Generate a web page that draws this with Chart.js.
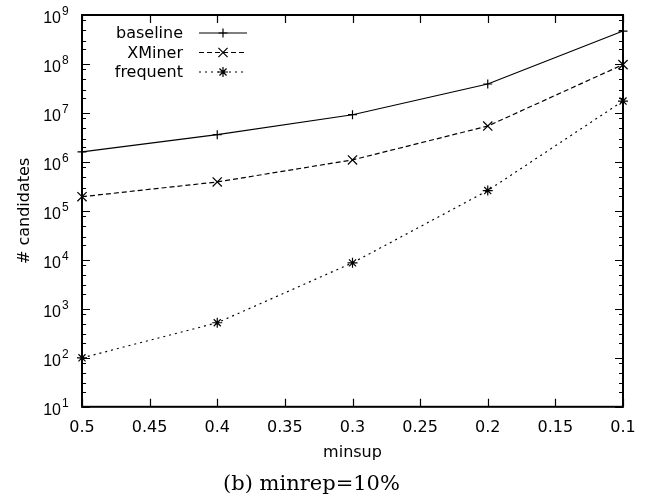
<!DOCTYPE html>
<html>
<head>
  <title>minrep=10%</title>
  <script src="https://cdn.jsdelivr.net/npm/chart.js"></script>
  <style>
    body { margin: 0; background: #fff; }
  </style>
</head>
<body>
  <canvas id="myChart" width="654" height="502"></canvas>
  <script>
    // values
    var minsup = [0.5, 0.4, 0.3, 0.2, 0.1];
    var baseline = [1.6e6, 3.6e6, 9.2e6, 3.9e7, 4.7e8];
    var xminer = [1.95e5, 3.9e5, 1.1e6, 5.4e6, 9.7e7];
    var frequent = [100, 520, 8.7e3, 2.6e5, 1.75e7];

    var seriesNames = ['baseline', 'XMiner', 'frequent'];
    var yTicks = [1e1, 1e2, 1e3, 1e4, 1e5, 1e6, 1e7, 1e8, 1e9];
    var yMinor = [2, 3, 5, 8];
    var caption = '(b) minrep=10%';

    function points(vals) {
      return minsup.map(function (x, i) { return { x: x, y: vals[i] }; });
    }

    function series(label, vals, style, radius, dash) {
      return {
        label: label,
        data: points(vals),
        borderColor: '#000',
        backgroundColor: '#000',
        borderWidth: 1.2,
        borderDash: dash,
        pointStyle: style,
        pointRadius: radius,
        pointBorderWidth: 1.2,
        pointBorderColor: '#000',
        tension: 0,
        clip: false
      };
    }

    // gnuplot-like marker, used for the legend sample
    function marker(ctx, style, r, x, y) {
      ctx.save();
      ctx.setLineDash([]);
      ctx.lineWidth = 1.2;
      ctx.beginPath();
      if (style === 'cross' || style === 'star') {
        ctx.moveTo(x - r, y); ctx.lineTo(x + r, y);
        ctx.moveTo(x, y - r); ctx.lineTo(x, y + r);
      }
      if (style === 'crossRot' || style === 'star') {
        var d = r * Math.SQRT1_2;
        ctx.moveTo(x - d, y - d); ctx.lineTo(x + d, y + d);
        ctx.moveTo(x - d, y + d); ctx.lineTo(x + d, y - d);
      }
      ctx.stroke();
      ctx.restore();
    }

    var framePlugin = {
      id: 'gnuplotFrame',
      afterDraw: function (chart) {
        var ctx = chart.ctx;
        var a = chart.chartArea;
        var xs = chart.scales.x, ys = chart.scales.y;
        ctx.save();
        ctx.strokeStyle = '#000';
        ctx.fillStyle = '#000';

        // inward ticks, mirrored
        ctx.lineWidth = 1.2;
        ctx.beginPath();
        xs.ticks.forEach(function (t) {
          var px = Math.round(xs.getPixelForValue(t.value)) + 0.5;
          ctx.moveTo(px, a.bottom); ctx.lineTo(px, a.bottom - 8);
          ctx.moveTo(px, a.top); ctx.lineTo(px, a.top + 8);
        });
        yTicks.forEach(function (v, i) {
          var py = Math.round(ys.getPixelForValue(v)) + 0.5;
          ctx.moveTo(a.left, py); ctx.lineTo(a.left + 8, py);
          ctx.moveTo(a.right, py); ctx.lineTo(a.right - 8, py);
          if (i < yTicks.length - 1) {
            yMinor.forEach(function (m) {
              var q = Math.round(ys.getPixelForValue(v * m)) + 0.5;
              ctx.moveTo(a.left, q); ctx.lineTo(a.left + 4, q);
              ctx.moveTo(a.right, q); ctx.lineTo(a.right - 4, q);
            });
          }
        });
        ctx.stroke();

        // frame
        ctx.lineWidth = 2;
        ctx.strokeRect(a.left, a.top, a.right - a.left, a.bottom - a.top);

        // y tick labels 10^n
        yTicks.forEach(function (v) {
          var py = ys.getPixelForValue(v);
          var e = Math.round(Math.log10(v));
          ctx.textBaseline = 'middle';
          ctx.font = '16px "Liberation Sans", Arial, sans-serif';
          ctx.textAlign = 'right';
          ctx.fillText('10', a.left - 21, py + 4);
          ctx.font = '12px "Liberation Sans", Arial, sans-serif';
          ctx.textAlign = 'left';
          ctx.fillText(String(e), a.left - 20, py - 3);
        });

        // legend, gnuplot style: text right aligned, then sample
        var ds = chart.data.datasets;
        ds.forEach(function (d, i) {
          var y = 33 + i * 19.5;
          ctx.font = '16px "DejaVu Sans", sans-serif';
          ctx.textAlign = 'right';
          ctx.textBaseline = 'middle';
          ctx.fillText(d.label, 183, y + 1);
          ctx.lineWidth = d.borderWidth;
          ctx.setLineDash(d.borderDash || []);
          ctx.beginPath();
          ctx.moveTo(199, y); ctx.lineTo(247, y);
          ctx.stroke();
          marker(ctx, d.pointStyle, d.pointRadius, 223, y);
        });
        ctx.restore();
      }
    };

    var ctx = document.getElementById('myChart').getContext('2d');
    var myChart = new Chart(ctx, {
      type: 'line',
      data: {
        datasets: [
          series(seriesNames[0], baseline, 'cross', 4.5, []),
          series(seriesNames[1], xminer, 'crossRot', 6.5, [5, 3]),
          series(seriesNames[2], frequent, 'star', 5, [2, 4])
        ]
      },
      options: {
        responsive: false,
        animation: false,
        devicePixelRatio: 1,
        layout: { padding: { left: 0, right: 31, top: 15, bottom: 0 } },
        scales: {
          x: {
            type: 'linear',
            reverse: true,
            min: 0.1,
            max: 0.5,
            grid: { display: false, drawTicks: false },
            border: { display: false },
            ticks: {
              stepSize: 0.05,
              padding: 11,
              maxRotation: 0,
              autoSkip: false,
              color: '#000',
              font: { family: '"DejaVu Sans", sans-serif', size: 16 },
              callback: function (v) { return String(parseFloat(v.toFixed(2))); }
            },
            title: {
              display: true,
              text: 'minsup',
              color: '#000',
              font: { family: '"DejaVu Sans", sans-serif', size: 16 },
              padding: { top: 0, bottom: 4 }
            },
            afterFit: function (s) { s.height = 60; }
          },
          y: {
            type: 'logarithmic',
            min: 10,
            max: 1e9,
            grid: { display: false, drawTicks: false },
            border: { display: false },
            ticks: { display: false },
            afterBuildTicks: function (s) {
              s.ticks = yTicks.map(function (v) { return { value: v }; });
            },
            title: {
              display: true,
              text: '# candidates',
              color: '#000',
              font: { family: '"DejaVu Sans", sans-serif', size: 16 },
              padding: { top: 15, bottom: 0 }
            },
            afterFit: function (s) { s.width = 82; }
          }
        },
        plugins: {
          legend: { display: false },
          tooltip: { enabled: false },
          title: {
            display: true,
            position: 'bottom',
            text: caption,
            color: '#000',
            font: { family: '"DejaVu Serif", serif', size: 21, weight: 'normal' },
            padding: { top: 5, bottom: 5 }
          }
        }
      },
      plugins: [framePlugin]
    });
  </script>
</body>
</html>
